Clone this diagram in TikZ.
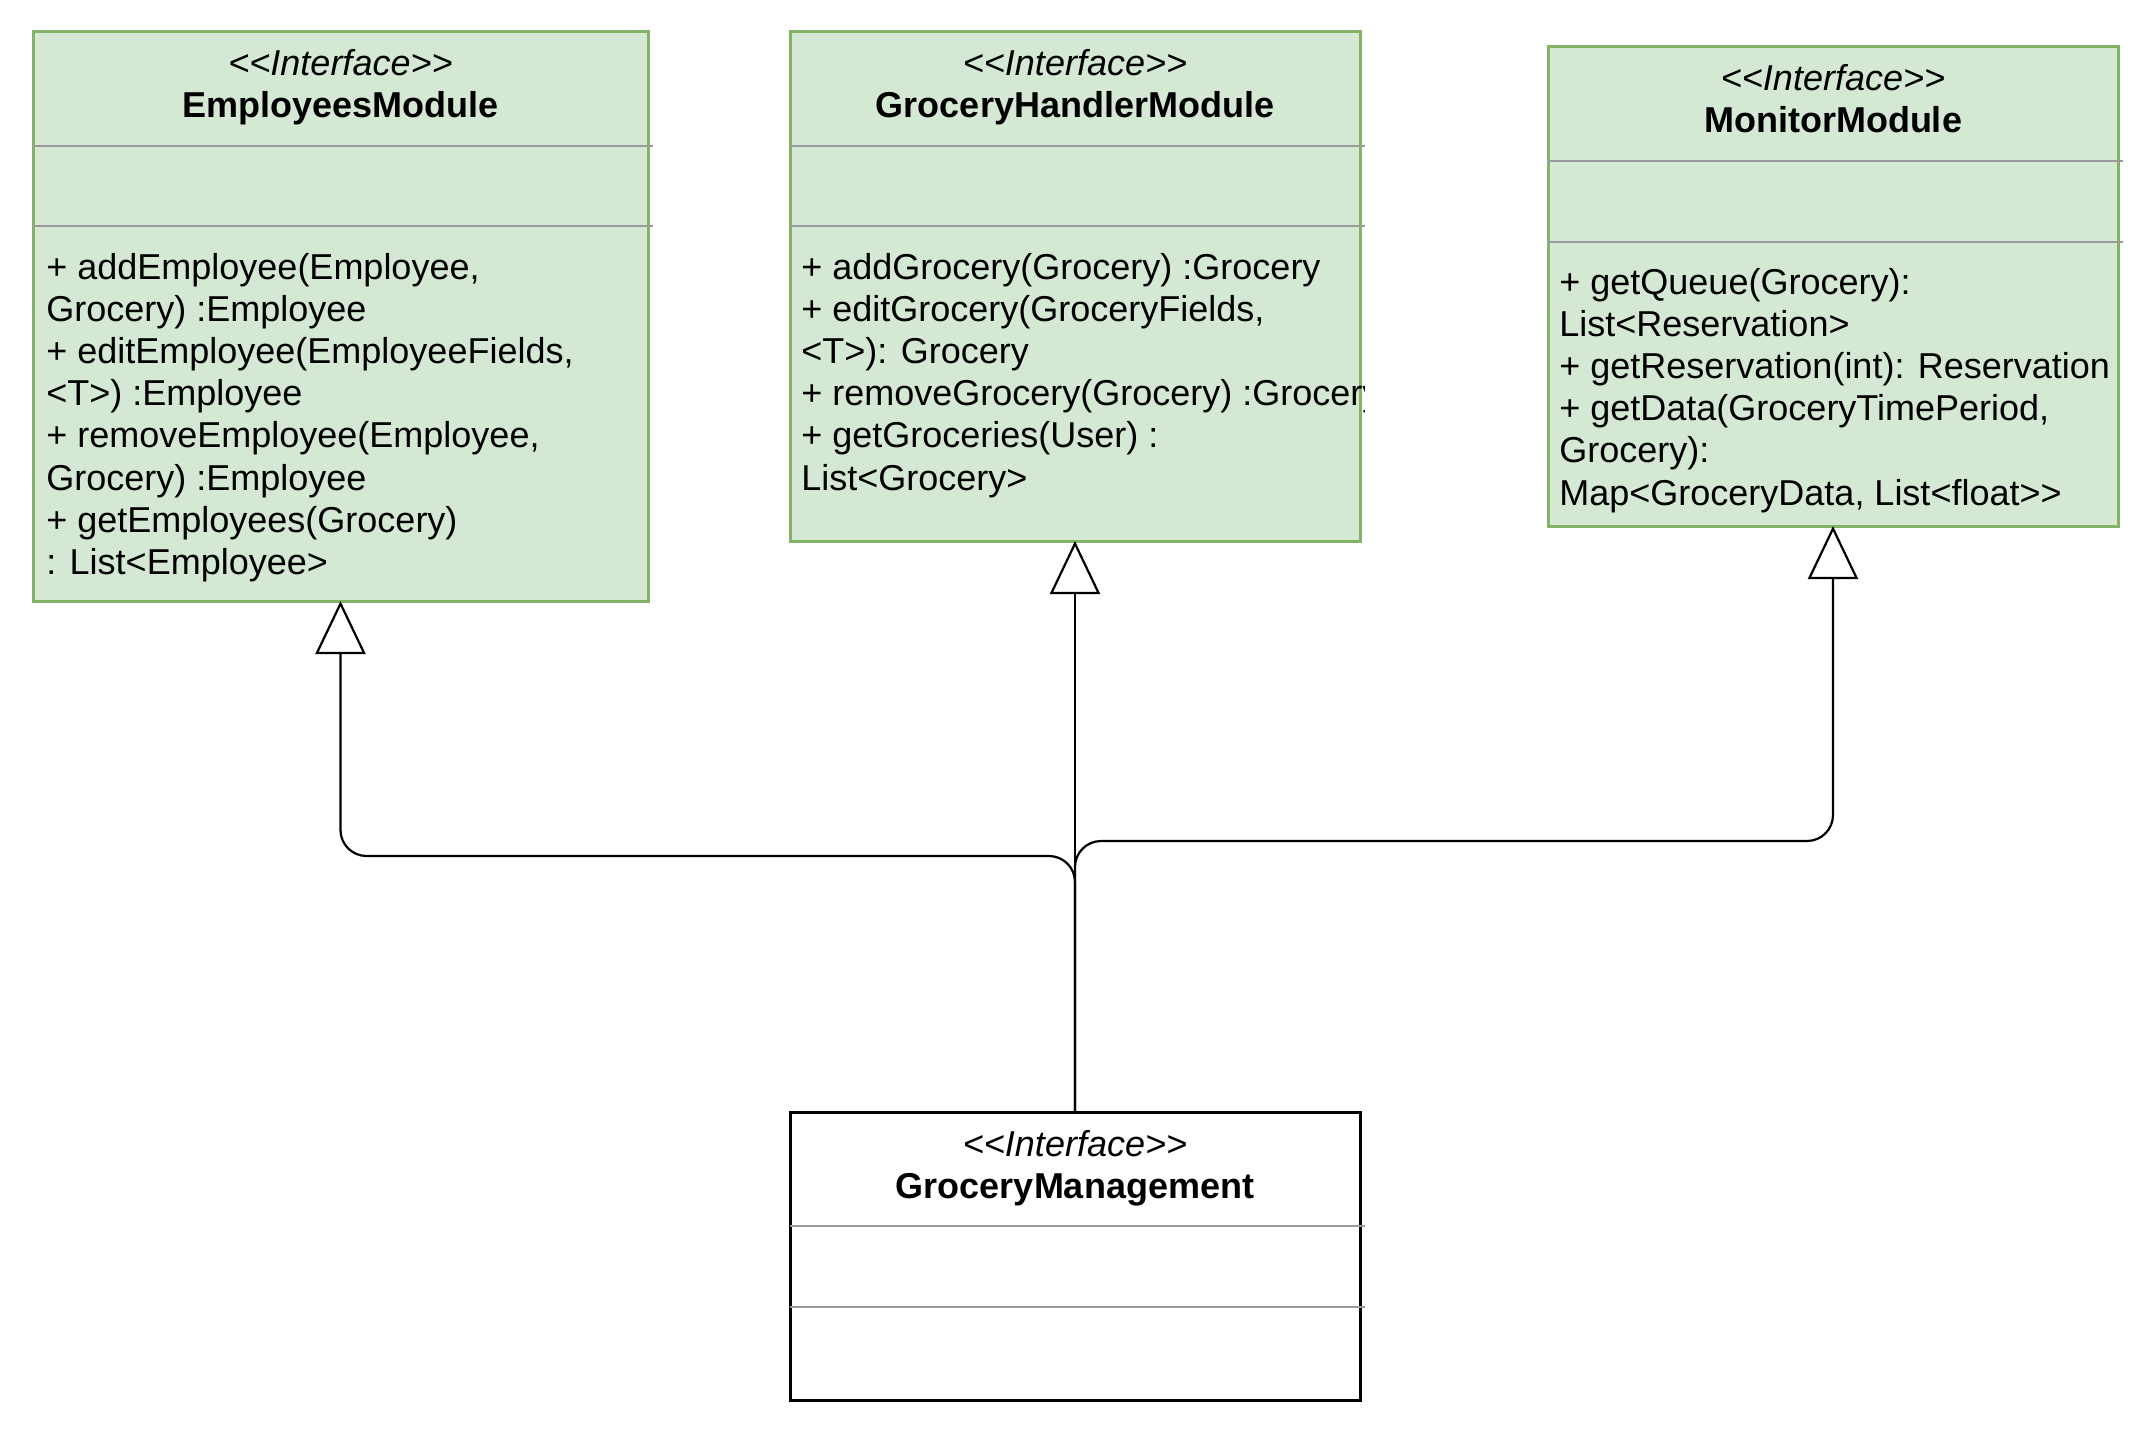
\documentclass[tikz,border=0pt]{standalone}
\usepackage{fontspec}
\setmainfont{Liberation Sans}[Ligatures=TeXOff]
\usetikzlibrary{arrows.meta}
\definecolor{ifill}{HTML}{D5E8D4}
\definecolor{iline}{HTML}{82B366}
\definecolor{divgray}{HTML}{9A9A9A}
\tikzset{
  ibox/.style={draw=iline, fill=ifill, line width=1.5pt, anchor=north west, inner sep=0pt, outer sep=0pt},
  pbox/.style={draw=black, fill=white, line width=1.5pt, anchor=north west, inner sep=0pt, outer sep=0pt},
  divider/.style={draw=divgray, line width=1.3pt},
  stereo/.style={font=\fontsize{18}{21}\selectfont\itshape, inner sep=0pt, anchor=base},
  cname/.style={font=\fontsize{18}{21}\selectfont\bfseries, inner sep=0pt, anchor=base},
  member/.style={font=\fontsize{18}{21}\selectfont, inner sep=0pt, anchor=base west},
  conn/.style={draw=black, line width=1.1pt, -{Triangle[fill=white, length=26.5pt, width=25pt]}}
}
\begin{document}
\begin{tikzpicture}[x=0.5pt, y=-0.5pt]
\useasboundingbox (0,0) rectangle (2148,1431);

% class boxes
\node[ibox, minimum width=307.5pt, minimum height=285pt] (em) at (33,31) {};
\node[ibox, minimum width=285pt, minimum height=255pt] (gh) at (790,31) {};
\node[ibox, minimum width=285pt, minimum height=240pt] (mm) at (1548,46) {};
\node[pbox, minimum width=285pt, minimum height=144pt] (gm) at (790,1112) {};

% compartment separators
\draw[divider] (33,146) -- (653,146);
\draw[divider] (33,226) -- (653,226);
\draw[divider] (790,146) -- (1365,146);
\draw[divider] (790,226) -- (1365,226);
\draw[divider] (1548,161) -- (2123,161);
\draw[divider] (1548,242) -- (2123,242);
\draw[divider] (790,1226) -- (1365,1226);
\draw[divider] (790,1307) -- (1365,1307);

% headers
\node[stereo] (emS) at (340.5,75) {<<Interface>>};
\node[cname]  (emN) at (340.5,117) {EmployeesModule};
\node[stereo] (ghS) at (1075,75) {<<Interface>>};
\node[cname]  (ghN) at (1075,117) {GroceryHandlerModule};
\node[stereo] (mmS) at (1833,90) {<<Interface>>};
\node[cname]  (mmN) at (1833,132) {MonitorModule};
\node[stereo] (gmS) at (1075,1156) {<<Interface>>};
\node[cname]  (gmN) at (1075,1198) {GroceryManagement};

% operations
\foreach \t [count=\i] in {{+ addEmployee(Employee,},{Grocery) :Employee},{+ editEmployee(EmployeeFields,},{<T>) :Employee},{+ removeEmployee(Employee,},{Grocery) :Employee},{+ getEmployees(Grocery)},{: List<Employee>}}
  \node[member] (emop\i) at (46,{279+42.2*(\i-1)}) {\t};

\begin{scope}
\clip (790,31) rectangle (1364,541);
\foreach \t [count=\i] in {{+ addGrocery(Grocery) :Grocery},{+ editGrocery(GroceryFields,},{<T>): Grocery},{+ removeGrocery(Grocery) :Grocery},{+ getGroceries(User) :},{List<Grocery>}}
  \node[member] (ghop\i) at (801,{279+42.2*(\i-1)}) {\t};
\end{scope}

\foreach \t [count=\i] in {{+ getQueue(Grocery):},{List<Reservation>},{+ getReservation(int): Reservation},{+ getData(GroceryTimePeriod,},{Grocery):},{Map<GroceryData, List<float>>}}
  \node[member] (mmop\i) at (1559,{294+42.2*(\i-1)}) {\t};

% realization connectors
\coordinate (lj) at (0,856);
\coordinate (rj) at (0,841);
\draw[conn, rounded corners=13pt] (gm.north) -- (gm.north |- lj) -- (em.south |- lj) -- (em.south);
\draw[conn] (gm.north) -- (gh.south);
\draw[conn, rounded corners=13pt] (gm.north) -- (gm.north |- rj) -- (mm.south |- rj) -- (mm.south);
\end{tikzpicture}
\end{document}
